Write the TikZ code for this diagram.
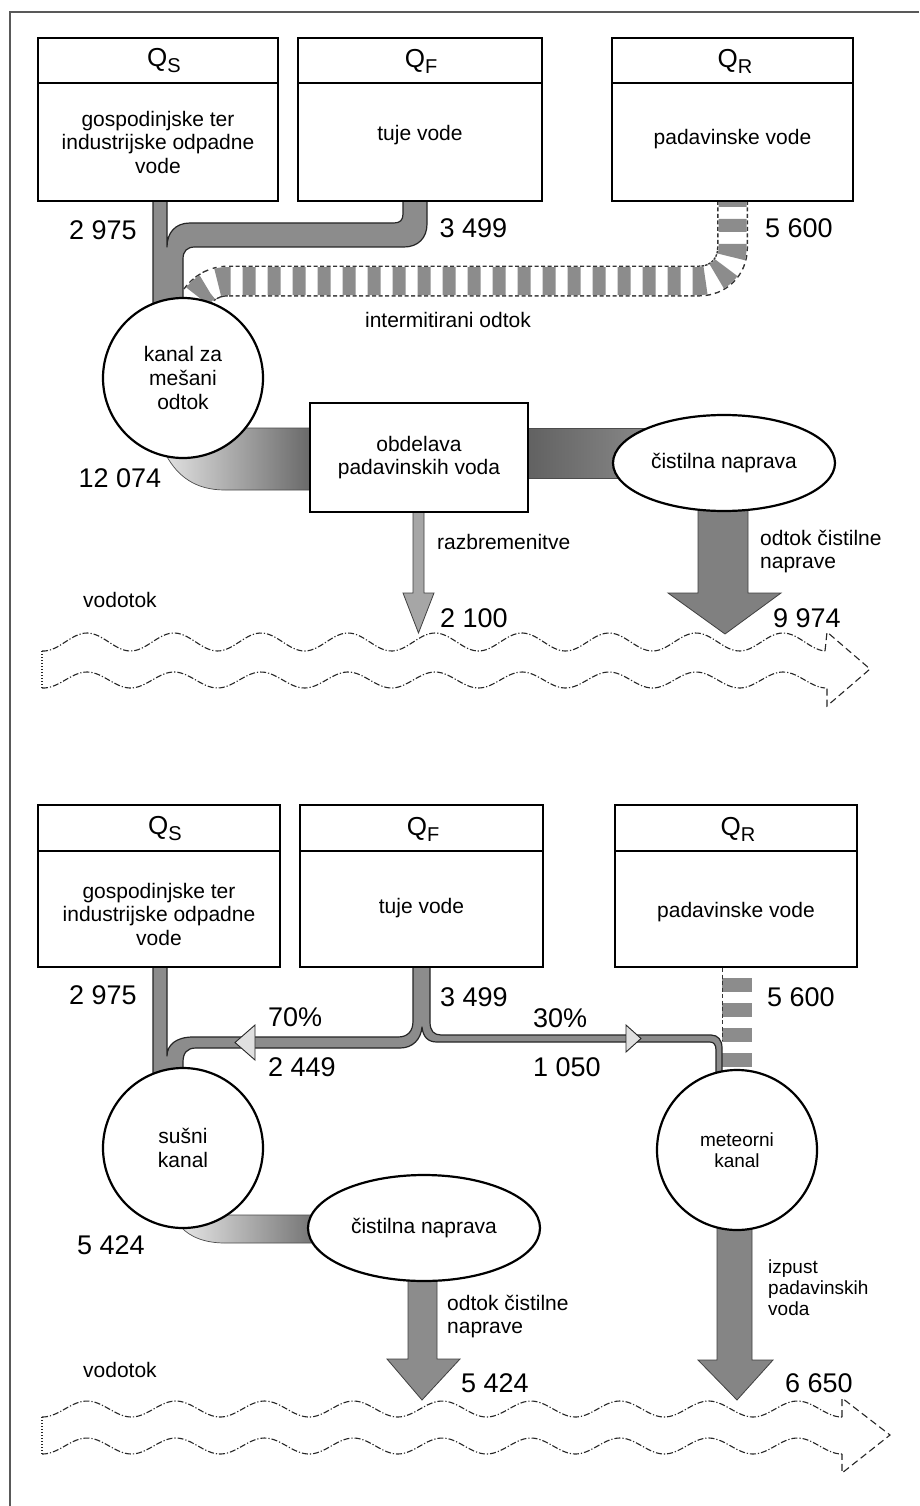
\documentclass[tikz,border=0pt]{standalone}
\usepackage{fontspec}
\setmainfont{Liberation Sans}
\usetikzlibrary{shapes.geometric}
\newcommand\Qsub[1]{{\fontsize{26}{26}\selectfont Q}\raisebox{-6pt}{\fontsize{20}{20}\selectfont #1}}
\begin{document}
\begin{tikzpicture}[x=1pt,y=-1pt,
  box/.style={draw=black, line width=2.7pt, fill=white, inner sep=0pt, outer sep=0pt},
  hdr/.style={inner sep=0pt},
  lbl/.style={font=\fontsize{21}{23.5}\selectfont, align=center, inner sep=0pt},
  lbll/.style={font=\fontsize{21}{23.5}\selectfont, align=left, inner sep=0pt, anchor=west},
  num/.style={font=\fontsize{27}{28}\selectfont, inner sep=0pt},
  numl/.style={num, anchor=west},
  circ/.style={circle, draw=black, line width=2.2pt, fill=white, minimum size=160pt, inner sep=0pt, font=\fontsize{21}{24}\selectfont, align=center},
  ell/.style={ellipse, draw=black, line width=2.2pt, fill=white, inner sep=0pt, font=\fontsize{21}{24}\selectfont},
  pipe/.style={fill=black!45, draw=black!85, line width=1.2pt, line join=round},
  band/.style={draw=black!70, line width=0.7pt},
  bigarrow/.style={draw=black!75, line width=0.8pt, line join=miter},
  headtip/.style={fill=black!12, draw=black!85, line width=0.9pt, line join=miter},
  wave/.style={black!85, line width=1.1pt, dash pattern=on 6pt off 2pt on 1.2pt off 2pt},
  riverhead/.style={black!85, line width=1.1pt, dash pattern=on 7pt off 4pt},
  riverend/.style={black!85, line width=1.1pt, dash pattern=on 1.2pt off 1.8pt},
]
\useasboundingbox (0,0) rectangle (919,1506);
\fill[white] (0,0) rectangle (919,1506);
% frame
\draw[black!65, line width=1.5pt] (919,12) -- (10,12) -- (10,1506);

% ================= TOP =================
% striped (intermittent) pipe
\def\stripepathtop{(732.5,201) -- (732.5,248) .. controls (732.5,267) and (718,281) .. (699.5,281) -- (227,281) .. controls (212,281) and (198,291) .. (191,306)}
\draw[line width=31pt, black!80, dash pattern=on 4pt off 2.5pt] \stripepathtop;
\draw[line width=28pt, white] \stripepathtop;
\draw[line width=28pt, black!45, dash pattern=on 13pt off 12pt, dash phase=7pt] \stripepathtop;

% solid pipes QS + QF
\draw[pipe] (153,201) -- (153,314) -- (183,314) -- (183,259) .. controls (183,251) and (187,247) .. (195,247) -- (404,247) .. controls (418,247) and (427,238) .. (427,224) -- (427,201) -- (403,201) -- (403,214) .. controls (403,220) and (400,223) .. (394,223) -- (190,223) .. controls (175,223) and (167,233) .. (167,247) -- (167,201) -- cycle;

% bands
\shadedraw[band, left color=black!12, right color=black!60] (240,428) -- (314,428) -- (314,490) -- (225,490) .. controls (196,490) and (178,477) .. (166,455) -- (200,420) -- cycle;
\shadedraw[band, left color=black!62, right color=black!45] (526,428) -- (660,428) -- (660,478) -- (526,478) -- cycle;

% arrows
\draw[bigarrow, fill=black!35] (413,512) -- (413,593) -- (403,593) -- (418.5,633) -- (434,593) -- (424,593) -- (424,512) -- cycle;
\draw[bigarrow, fill=black!50] (698,500) -- (698,593) -- (668,593) -- (725,634) -- (781,593) -- (748,593) -- (748,500) -- cycle;

% boxes
\node[box, minimum width=240pt, minimum height=163pt] (qs1) at (158,119.5) {};
\node[box, minimum width=244pt, minimum height=163pt] (qf1) at (420,119.5) {};
\node[box, minimum width=241pt, minimum height=163pt] (qr1) at (732.5,119.5) {};
\draw[line width=2.7pt] (qs1.west |- 0,83) -- (qs1.east |- 0,83);
\draw[line width=2.7pt] (qf1.west |- 0,83) -- (qf1.east |- 0,83);
\draw[line width=2.7pt] (qr1.west |- 0,83) -- (qr1.east |- 0,83);
\node[hdr] (qs1h) at (164,61) {\Qsub{S}};
\node[hdr] (qf1h) at (421,61) {\Qsub{F}};
\node[hdr] (qr1h) at (735,61) {\Qsub{R}};
\node[lbl] (qs1t) at (158,142) {gospodinjske ter\\industrijske odpadne\\vode};
\node[lbl] (qf1t) at (420,135) {tuje vode};
\node[lbl] (qr1t) at (732.5,139) {padavinske vode};

\node[circ] (kanal) at (183,378) {kanal za\\mešani\\odtok};
\node[box, minimum width=218pt, minimum height=109pt, lbl] (obd) at (419,457.5) {obdelava\\padavinskih voda};
\node[ell, minimum width=222pt, minimum height=96pt] (cist1) at (724,463) {čistilna naprava};

% numbers and labels
\node[num] (n2975a) at (103,230) {2 975};
\node[num] (n3499a) at (473.5,228) {3 499};
\node[num] (n5600a) at (799,228) {5 600};
\node[lbl] (interm) at (448,320) {intermitirani odtok};
\node[num] (n12074) at (120,478) {12 074};
\node[lbll] (razb) at (437,542) {razbremenitve};
\node[numl] (n2100) at (440,618) {2 100};
\node[lbll] (odtok1) at (760,551.5) {odtok čistilne\\naprave};
\node[numl] (n9974) at (773,618) {9 974};
\node[lbll] (vod1) at (83,600) {vodotok};

% river
\draw[wave] plot[domain=42:825, samples=260, smooth] (\x, {642-9*cos(4.137931*(\x-87))});
\draw[wave] plot[domain=42:825, samples=260, smooth] (\x, {680-8*cos(4.137931*(\x-87))});
\draw[riverend] (42,651) -- (42,688);
\draw[riverhead] (825,651) -- (827,632) -- (870,669) -- (827,706) -- (827,688) -- (825,688);

% ================= BOTTOM =================
% striped pipe
\draw[line width=30pt, black!45, dash pattern=on 14pt off 11pt, dash phase=15pt] (737,968) -- (737,1080);
\draw[black!80, line width=1pt, dash pattern=on 4pt off 2.5pt] (722,968) -- (722,1040);

% solid pipes
\draw[pipe] (153,967) -- (153,1085) -- (183,1085) -- (183,1062) .. controls (183,1053) and (187,1048) .. (196,1048) -- (400,1048) .. controls (413,1048) and (421,1039) .. (422,1027) .. controls (423,1037) and (428,1042) .. (437,1042) -- (710,1042) .. controls (714,1042) and (716,1045) .. (716,1050) -- (716,1085) -- (722,1085) -- (722,1048) .. controls (722,1040) and (718,1035) .. (711,1035) -- (441,1035) .. controls (434,1035) and (430,1031) .. (430,1022) -- (430,967) -- (413,967) -- (413,1021) .. controls (413,1031) and (408,1037) .. (398,1037) -- (193,1037) .. controls (176,1037) and (167,1045) .. (167,1056) -- (167,967) -- cycle;
\draw[headtip] (235,1042.5) -- (255,1025) -- (255,1060) -- cycle;
\draw[headtip] (641,1038.5) -- (626,1025) -- (626,1052) -- cycle;

% band and arrows
\shadedraw[band, left color=black!10, right color=black!60] (222,1215) -- (330,1215) -- (330,1243) -- (225,1243) .. controls (205,1243) and (190,1237) .. (181,1227) -- (200,1200) -- cycle;
\draw[bigarrow, fill=black!45] (408,1275) -- (408,1359) -- (387,1359) -- (422,1400) -- (460,1359) -- (437,1359) -- (437,1275) -- cycle;
\draw[bigarrow, fill=black!48] (717,1222) -- (717,1360) -- (698,1360) -- (737,1400) -- (773,1360) -- (752,1360) -- (752,1222) -- cycle;

% boxes
\node[box, minimum width=242pt, minimum height=162pt] (qs2) at (159,886) {};
\node[box, minimum width=243pt, minimum height=162pt] (qf2) at (421.5,886) {};
\node[box, minimum width=242pt, minimum height=162pt] (qr2) at (736,886) {};
\draw[line width=2.7pt] (qs2.west |- 0,851) -- (qs2.east |- 0,851);
\draw[line width=2.7pt] (qf2.west |- 0,851) -- (qf2.east |- 0,851);
\draw[line width=2.7pt] (qr2.west |- 0,851) -- (qr2.east |- 0,851);
\node[hdr] (qs2h) at (165,829) {\Qsub{S}};
\node[hdr] (qf2h) at (423,829) {\Qsub{F}};
\node[hdr] (qr2h) at (738,829) {\Qsub{R}};
\node[lbl] (qs2t) at (159,914) {gospodinjske ter\\industrijske odpadne\\vode};
\node[lbl] (qf2t) at (421.5,908) {tuje vode};
\node[lbl] (qr2t) at (736,912) {padavinske vode};

\node[circ] (susni) at (183,1148) {sušni\\kanal};
\node[circ, font=\fontsize{19}{21}\selectfont] (meteor) at (737,1150) {meteorni\\kanal};
\node[ell, minimum width=232pt, minimum height=106pt] (cist2) at (424,1228) {čistilna naprava};

% numbers and labels
\node[num] (n2975b) at (103,995) {2 975};
\node[numl] (n3499b) at (440,997) {3 499};
\node[numl] (n5600b) at (767,997) {5 600};
\node[numl] (p70) at (268,1017) {70\%};
\node[numl] (n2449) at (268,1067) {2 449};
\node[numl] (p30) at (533,1018) {30\%};
\node[numl] (n1050) at (533,1067) {1 050};
\node[numl] (n5424a) at (77,1245) {5 424};
\node[lbll] (odtok2) at (447,1316.5) {odtok čistilne\\naprave};
\node[numl] (n5424b) at (461,1383) {5 424};
\node[lbll, font=\fontsize{19}{21}\selectfont] (izpust) at (768,1288) {izpust\\padavinskih\\voda};
\node[numl] (n6650) at (785,1383) {6 650};
\node[lbll] (vod2) at (83,1370) {vodotok};

% river
\draw[wave] plot[domain=42:842, samples=260, smooth] (\x, {1409-8*cos(4.054054*(\x-87))});
\draw[wave] plot[domain=42:842, samples=260, smooth] (\x, {1446-8*cos(4.054054*(\x-87))});
\draw[riverend] (42,1417) -- (42,1454);
\draw[riverhead] (842,1417) -- (842,1398) -- (890,1435) -- (842,1473) -- (842,1454);
\end{tikzpicture}
\end{document}
